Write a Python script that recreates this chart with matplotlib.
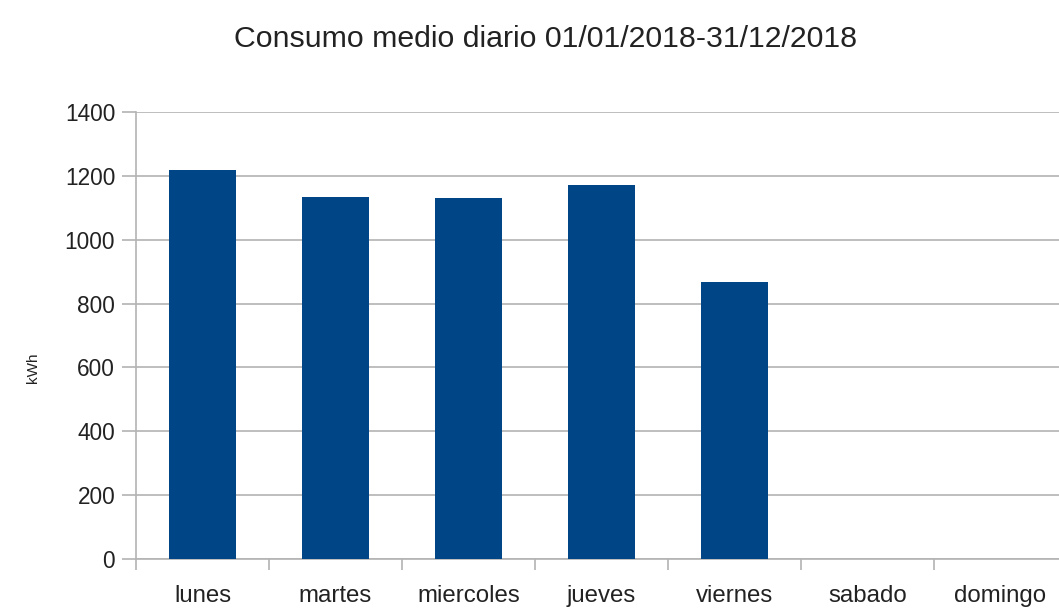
import numpy as np
import matplotlib
matplotlib.use("Agg")
import matplotlib.pyplot as plt
from matplotlib.ticker import FixedLocator

# Average daily consumption per weekday, 2018
days = ["lunes", "martes", "miercoles", "jueves", "viernes", "sabado", "domingo"]
kwh = [1219, 1134, 1131, 1172, 866, 0, 0]
y_ticks = [0, 200, 400, 600, 800, 1000, 1200, 1400]

plt.rcParams["font.family"] = ["Liberation Sans", "DejaVu Sans"]

W, H = 1059, 608
fig = plt.figure(figsize=(W / 100, H / 100), dpi=100)
ax = fig.add_axes([136 / W, (H - 559) / H, (1067 - 136) / W, (559 - 112) / H])

x = np.arange(len(days))
ax.bar(x, kwh, width=0.5, color="#004586", zorder=3)

ax.set_xlim(-0.5, len(days) - 0.5)
ax.set_ylim(0, 1400)
ax.set_yticks(y_ticks)
ax.yaxis.grid(True, color="#b3b3b3", linewidth=1.2, zorder=0)

# category labels in the middle, tick marks on the boundaries
ax.set_xticks(x)
ax.set_xticklabels(days)
ax.xaxis.set_minor_locator(FixedLocator(np.arange(-0.5, len(days), 1.0)))
ax.tick_params(axis="x", which="major", length=0, pad=19, labelsize=17.3, colors="#222222")
ax.tick_params(axis="x", which="minor", length=8, width=1.2, color="#b3b3b3")
ax.tick_params(axis="y", length=10, width=1.2, color="#b3b3b3", pad=5, labelsize=16.3, labelcolor="#222222")

for side in ["top", "right"]:
    ax.spines[side].set_visible(False)
for side in ["left", "bottom"]:
    ax.spines[side].set_color("#b3b3b3")
    ax.spines[side].set_linewidth(1.2)

fig.text(33 / W, 1 - 368 / H, "kWh", rotation=90, ha="center", va="center", fontsize=11, color="#222222")
fig.text(546 / W, 1 - 39 / H, "Consumo medio diario 01/01/2018-31/12/2018",
         ha="center", va="center", fontsize=21.8, color="#222222")

fig.savefig("out.png", dpi=100)
